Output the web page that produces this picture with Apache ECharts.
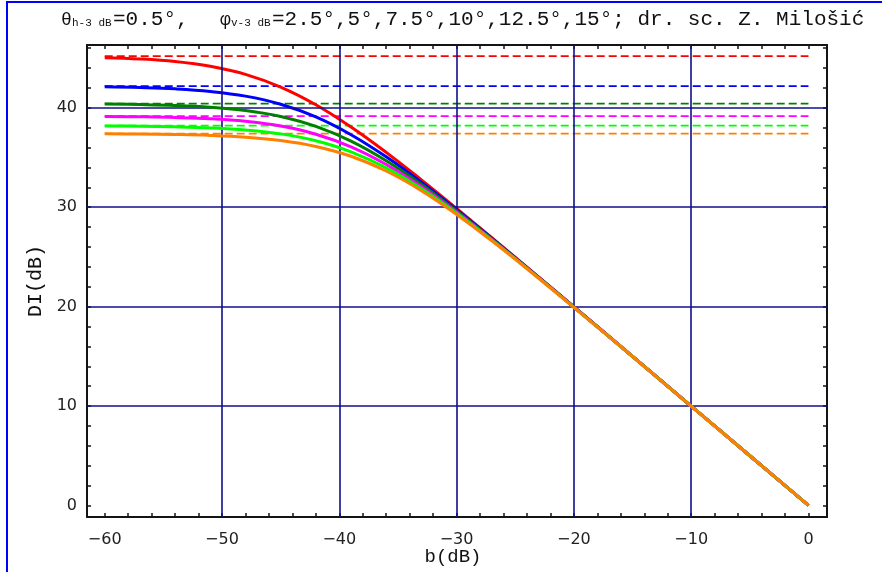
<!DOCTYPE html>
<html>
<head>
<meta charset="utf-8">
<title>DI(b)</title>
<script src="https://cdn.jsdelivr.net/npm/echarts@6/dist/echarts.min.js"></script>
<style>
  html, body { margin: 0; padding: 0; background: #ffffff; }
  #chart { width: 882px; height: 572px; }
</style>
</head>
<body>
<div id="chart"></div>
<script>
// Side-lobe level b (dB) at which each curve is sampled
const bValues = [-60, -57, -54, -51, -48, -45, -42, -39, -36, -33, -30, -27, -24, -20, -15, -10, -5, 0];

// Directivity index DI (dB) for φv-3dB = 2.5°, 5°, 7.5°, 10°, 12.5°, 15°
const diPhi25  = [45.04, 44.91, 44.65, 44.17, 43.36, 42.08, 40.30, 38.06, 35.51, 32.75, 29.87, 26.93, 23.97, 19.99, 15.00, 10.00, 5.00, 0.00];
const diPhi5   = [42.10, 42.03, 41.90, 41.64, 41.17, 40.35, 39.08, 37.29, 35.06, 32.50, 29.74, 26.87, 23.93, 19.97, 14.99, 9.99, 5.00, 0.00];
const diPhi75  = [40.37, 40.32, 40.23, 40.05, 39.72, 39.12, 38.12, 36.64, 34.66, 32.28, 29.62, 26.81, 23.90, 19.96, 14.99, 10.00, 5.00, 0.00];
const diPhi10  = [39.13, 39.09, 39.02, 38.89, 38.63, 38.16, 37.34, 36.07, 34.29, 32.06, 29.50, 26.74, 23.87, 19.95, 14.98, 9.99, 5.00, 0.00];
const diPhi125 = [38.17, 38.14, 38.08, 37.97, 37.76, 37.37, 36.68, 35.57, 33.95, 31.85, 29.39, 26.68, 23.84, 19.93, 14.98, 9.99, 5.00, 0.00];
const diPhi15  = [37.38, 37.36, 37.31, 37.22, 37.04, 36.71, 36.11, 35.12, 33.64, 31.66, 29.27, 26.62, 23.81, 19.92, 14.98, 9.98, 5.00, 0.00];

// Limit DI without side lobes (dashed lines), same order as above
const diLimits = [45.19, 42.17, 40.41, 39.16, 38.20, 37.40];

const curveColors = ['#ff0000', '#0000ff', '#008000', '#ff00ff', '#00ff00', '#ff8000'];
const curves = [diPhi25, diPhi5, diPhi75, diPhi10, diPhi125, diPhi15];

// Axis ticks, labels and grid
const xTickValues = [-60, -58, -56, -54, -52, -50, -48, -46, -44, -42, -40, -38, -36, -34, -32, -30,
                     -28, -26, -24, -22, -20, -18, -16, -14, -12, -10, -8, -6, -4, -2, 0];
const xLabelValues = [-60, -50, -40, -30, -20, -10, 0];
const yTickValues = [0, 2, 4, 6, 8, 10, 12, 14, 16, 18, 20, 22, 24, 26, 28, 30, 32, 34, 36, 38, 40, 42, 44, 46];
const yLabelValues = [0, 10, 20, 30, 40];
const xGridValues = [-50, -40, -30, -20, -10];
const yGridValues = [10, 20, 30, 40];

const X_MIN = -61.51, X_MAX = 1.58;
const Y_MIN = -1.16, Y_MAX = 46.31;

const frameColor = '#141414';
const labelFont = 'DejaVu Sans';
const monoFont = 'Liberation Mono';

function fmt(v) {
  return v < 0 ? '\u2212' + Math.abs(v) : String(v);
}

function frameAxis(position, min, max, ticks, labels, isX) {
  return {
    type: 'value',
    position: position,
    min: min,
    max: max,
    axisLine: { show: true, onZero: false, lineStyle: { color: frameColor, width: 2 } },
    axisTick: { show: true, inside: true, length: 4, customValues: ticks, lineStyle: { color: frameColor, width: 1.5 } },
    axisLabel: labels ? {
      show: true,
      customValues: labels,
      formatter: fmt,
      fontFamily: labelFont,
      fontSize: 16,
      color: '#222',
      margin: isX ? 15 : 10
    } : { show: false },
    splitLine: { show: false },
    minorTick: { show: false }
  };
}

const series = [];

// Grid lines
series.push({
  type: 'line',
  xAxisIndex: 0,
  yAxisIndex: 0,
  data: [],
  silent: true,
  z: 1,
  markLine: {
    silent: true,
    symbol: 'none',
    label: { show: false },
    lineStyle: { color: '#10108a', width: 1.6, type: 'solid' },
    emphasis: { disabled: true },
    data: xGridValues.map(v => ({ xAxis: v })).concat(yGridValues.map(v => ({ yAxis: v })))
  }
});

// Dashed limit lines
diLimits.forEach((v, i) => {
  series.push({
    type: 'line',
    xAxisIndex: 0,
    yAxisIndex: 0,
    data: [[bValues[0], v], [bValues[bValues.length - 1], v]],
    showSymbol: false,
    symbol: 'none',
    silent: true,
    z: 2,
    lineStyle: { color: curveColors[i], width: 1.8, type: [8, 4] }
  });
});

// DI curves
curves.forEach((arr, i) => {
  series.push({
    type: 'line',
    xAxisIndex: 0,
    yAxisIndex: 0,
    data: bValues.map((b, k) => [b, arr[k]]),
    showSymbol: false,
    symbol: 'none',
    smooth: 0.4,
    silent: true,
    z: 3 + i,
    lineStyle: { color: curveColors[i], width: 3 }
  });
});

const titleY = 19;
const chart = echarts.init(document.getElementById('chart'), null, { renderer: 'canvas' });
chart.setOption({
  animation: false,
  backgroundColor: '#ffffff',
  grid: { left: 87, top: 45, right: 55, bottom: 55, containLabel: false },
  xAxis: [
    frameAxis('bottom', X_MIN, X_MAX, xTickValues, xLabelValues, true),
    frameAxis('top', X_MIN, X_MAX, xTickValues, null, true)
  ],
  yAxis: [
    frameAxis('left', Y_MIN, Y_MAX, yTickValues, yLabelValues, false),
    frameAxis('right', Y_MIN, Y_MAX, yTickValues, null, false)
  ],
  series: series,
  graphic: [
    // outer border
    { type: 'rect', shape: { x: 6, y: 1, width: 876, height: 2 }, style: { fill: '#0000ff' }, silent: true },
    { type: 'rect', shape: { x: 6, y: 1, width: 2, height: 571 }, style: { fill: '#0000ff' }, silent: true },
    // heading
    { type: 'text', x: 61, y: titleY + 1, style: { text: 'θ', font: '18px "' + monoFont + '"', fill: '#111', verticalAlign: 'middle' }, silent: true },
    { type: 'text', x: 72, y: titleY + 4, style: { text: 'h-3 dB', font: '11px "' + monoFont + '"', fill: '#111', verticalAlign: 'middle' }, silent: true },
    { type: 'text', x: 113, y: titleY, style: { text: '=0.5°,', font: '21px "' + monoFont + '"', fill: '#111', verticalAlign: 'middle' }, silent: true },
    { type: 'text', x: 220, y: titleY + 1, style: { text: 'φ', font: '18px "' + monoFont + '"', fill: '#111', verticalAlign: 'middle' }, silent: true },
    { type: 'text', x: 231, y: titleY + 4, style: { text: 'v-3 dB', font: '11px "' + monoFont + '"', fill: '#111', verticalAlign: 'middle' }, silent: true },
    { type: 'text', x: 272, y: titleY, style: { text: '=2.5°,5°,7.5°,10°,12.5°,15°; dr. sc. Z. Milošić', font: '21px "' + monoFont + '"', fill: '#111', verticalAlign: 'middle' }, silent: true },
    // axis names
    { type: 'text', x: 453, y: 557, style: { text: 'b(dB)', font: '19px "' + monoFont + '"', fill: '#111', align: 'center', verticalAlign: 'middle' }, silent: true },
    { type: 'text', x: 36, y: 281, rotation: Math.PI / 2, style: { text: 'DI(dB)', font: '20px "' + monoFont + '"', fill: '#111', align: 'center', verticalAlign: 'middle' }, silent: true }
  ]
});
</script>
</body>
</html>
